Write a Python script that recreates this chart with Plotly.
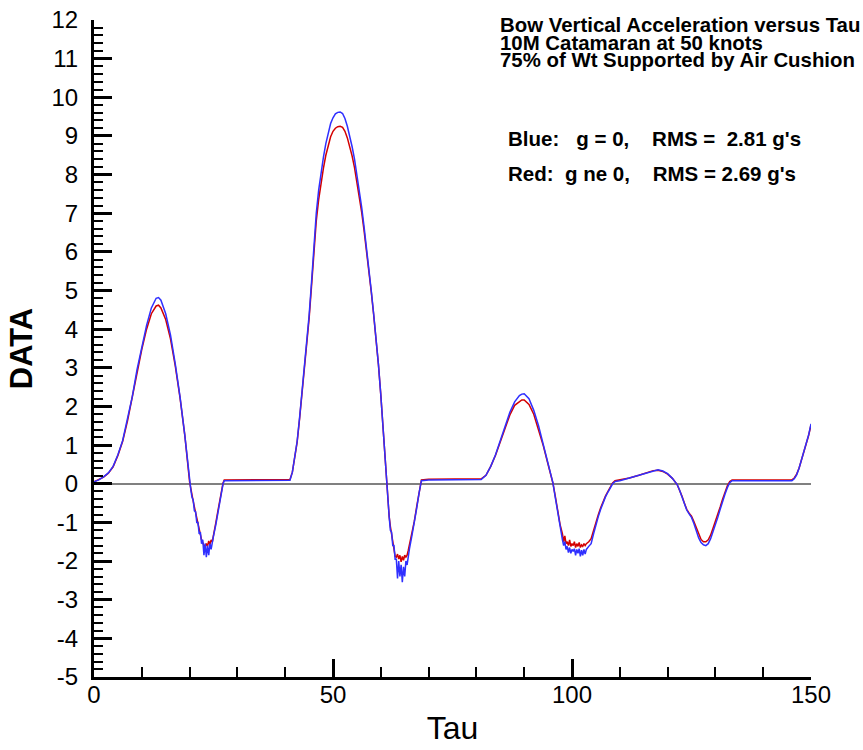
import plotly.graph_objects as go

# ---- data ----
tau_a = [0, 1, 2, 3, 4, 5, 6, 7, 8, 9, 10, 11, 12, 13, 13.5, 14, 15, 16, 17, 18, 19, 20]
blue_a = [0.05, 0.10, 0.18, 0.28, 0.45, 0.75, 1.12, 1.65, 2.25, 2.95, 3.55, 4.10, 4.55, 4.80, 4.82, 4.75, 4.40, 3.85, 3.10, 2.25, 1.25, 0.05]
red_a = [0.05, 0.10, 0.17, 0.27, 0.44, 0.73, 1.10, 1.62, 2.22, 2.90, 3.48, 4.00, 4.40, 4.60, 4.62, 4.55, 4.25, 3.75, 3.05, 2.22, 1.25, 0.05]

tau_b = [20.25, 20.5, 20.75, 21, 21.25, 21.5, 21.75, 22, 22.25, 22.5, 22.75, 23, 23.25, 23.5, 23.75, 24, 24.25, 24.5, 24.75, 25, 25.5, 26, 26.5, 27, 27.25, 27.5]
blue_b = [-0.15, -0.35, -0.42, -0.70, -0.72, -1.00, -1.00, -1.30, -1.25, -1.55, -1.45, -1.85, -1.55, -1.90, -1.60, -1.85, -1.55, -1.70, -1.50, -1.35, -1.05, -0.70, -0.32, 0.00, 0.08, 0.08]
red_b = [-0.15, -0.30, -0.45, -0.60, -0.75, -0.90, -1.05, -1.20, -1.32, -1.45, -1.52, -1.60, -1.62, -1.55, -1.62, -1.48, -1.58, -1.45, -1.50, -1.30, -1.00, -0.65, -0.30, 0.02, 0.10, 0.10]

tau_c = [28, 30, 32, 34, 36, 38, 40, 41]
blue_c = [0.08, 0.08, 0.08, 0.08, 0.08, 0.08, 0.08, 0.09]
red_c = [0.10, 0.10, 0.10, 0.10, 0.10, 0.10, 0.10, 0.11]

tau_d = [41.5, 42, 42.5, 43, 43.5, 44, 44.5, 45, 45.5, 46, 46.5, 47, 47.5, 48, 48.5, 49, 49.5, 50, 50.5, 51,
         51.5, 52, 52.5, 53, 53.5, 54, 54.5, 55, 55.5, 56, 56.5, 57, 57.5, 58, 58.5, 59, 59.5, 60, 60.5, 61]
blue_d = [0.30, 0.65, 1.10, 1.70, 2.35, 3.00, 3.70, 4.35, 5.20, 6.20, 7.00, 7.60, 8.05, 8.45, 8.80, 9.10, 9.32, 9.47, 9.57, 9.61,
          9.62, 9.58, 9.45, 9.25, 9.00, 8.72, 8.40, 8.00, 7.60, 7.15, 6.65, 6.15, 5.60, 5.00, 4.40, 3.80, 3.10, 2.30, 1.40, 0.35]
red_d = [0.30, 0.64, 1.08, 1.67, 2.30, 2.95, 3.63, 4.27, 5.10, 6.05, 6.80, 7.35, 7.80, 8.17, 8.50, 8.78, 8.98, 9.12, 9.20, 9.24,
         9.25, 9.22, 9.12, 8.95, 8.73, 8.48, 8.18, 7.82, 7.45, 7.02, 6.55, 6.07, 5.55, 4.97, 4.38, 3.78, 3.09, 2.30, 1.40, 0.35]

tau_e = [61.25, 61.5, 61.75, 62, 62.25, 62.5, 62.75, 63, 63.25, 63.5, 63.75, 64, 64.25, 64.5, 64.75, 65, 65.25, 65.5, 65.75, 66,
         66.5, 67, 67.5, 68, 68.25, 68.5]
blue_e = [-0.10, -0.60, -0.85, -1.20, -1.25, -1.60, -1.60, -1.95, -1.95, -2.45, -2.00, -2.40, -2.10, -2.55, -2.15, -2.40, -2.00, -2.10, -1.85, -1.68,
          -1.35, -1.02, -0.64, -0.24, -0.02, 0.08]
red_e = [-0.10, -0.55, -0.85, -1.10, -1.30, -1.50, -1.70, -1.88, -1.90, -1.82, -1.95, -1.85, -2.02, -1.88, -1.98, -1.85, -1.90, -1.85, -1.72, -1.58,
         -1.30, -0.98, -0.60, -0.20, 0.00, 0.10]

tau_f = [70, 72, 74, 76, 78, 80, 81]
blue_f = [0.10, 0.10, 0.10, 0.10, 0.10, 0.10, 0.11]
red_f = [0.12, 0.12, 0.12, 0.12, 0.12, 0.12, 0.13]

tau_g = [82, 83, 84, 85, 86, 87, 88, 89, 89.5, 90, 91, 92, 93, 94, 95, 96]
blue_g = [0.22, 0.45, 0.75, 1.12, 1.50, 1.85, 2.12, 2.28, 2.32, 2.33, 2.20, 1.90, 1.50, 1.02, 0.52, 0.03]
red_g = [0.22, 0.45, 0.74, 1.10, 1.47, 1.78, 2.03, 2.14, 2.17, 2.17, 2.05, 1.80, 1.42, 0.98, 0.50, 0.02]

tau_h = [96.5, 97, 97.5, 98, 98.25, 98.5, 98.75, 99, 99.25, 99.5, 99.75, 100, 100.25, 100.5, 100.75, 101, 101.25, 101.5, 101.75, 102,
         102.25, 102.5, 102.75, 103, 103.5, 104, 104.5, 105, 105.5, 106, 106.5, 107, 107.5, 108, 108.5, 109, 110]
blue_h = [-0.35, -0.75, -1.10, -1.45, -1.60, -1.50, -1.70, -1.62, -1.78, -1.65, -1.80, -1.70, -1.75, -1.68, -1.85, -1.70, -1.80, -1.68, -1.88, -1.72,
          -1.85, -1.70, -1.82, -1.70, -1.62, -1.55, -1.30, -1.05, -0.85, -0.66, -0.48, -0.34, -0.22, -0.10, 0.00, 0.06, 0.08]
red_h = [-0.32, -0.72, -1.05, -1.30, -1.50, -1.35, -1.55, -1.50, -1.60, -1.45, -1.62, -1.55, -1.60, -1.50, -1.65, -1.55, -1.62, -1.52, -1.65, -1.58,
         -1.62, -1.55, -1.60, -1.55, -1.50, -1.42, -1.20, -0.98, -0.80, -0.62, -0.45, -0.32, -0.20, -0.08, 0.02, 0.08, 0.10]

tau_i = [112, 114, 116, 117, 118, 119, 120, 121, 122]
blue_i = [0.15, 0.22, 0.30, 0.34, 0.36, 0.33, 0.26, 0.14, -0.02]
red_i = [0.15, 0.22, 0.30, 0.34, 0.35, 0.32, 0.25, 0.14, -0.02]

tau_j = [122.5, 123, 123.5, 124, 124.5, 125, 125.5, 126, 126.5, 127, 127.5, 128, 128.5, 129, 129.5, 130, 130.5, 131, 131.5, 132,
         132.5, 133, 133.5]
blue_j = [-0.16, -0.34, -0.52, -0.68, -0.78, -0.87, -1.03, -1.22, -1.40, -1.52, -1.58, -1.60, -1.55, -1.42, -1.25, -1.05, -0.87, -0.66, -0.45, -0.27,
          -0.10, 0.03, 0.08]
red_j = [-0.15, -0.32, -0.50, -0.66, -0.76, -0.84, -0.98, -1.15, -1.32, -1.44, -1.50, -1.50, -1.45, -1.33, -1.15, -0.98, -0.80, -0.60, -0.40, -0.22,
         -0.05, 0.06, 0.10]

tau_k = [136, 138, 140, 142, 144, 146, 146.5, 147, 147.5, 148, 148.5, 149, 149.5, 150]
blue_k = [0.08, 0.08, 0.08, 0.08, 0.08, 0.08, 0.13, 0.23, 0.40, 0.60, 0.80, 1.00, 1.26, 1.55]
red_k = [0.10, 0.10, 0.10, 0.10, 0.10, 0.10, 0.15, 0.25, 0.40, 0.60, 0.80, 1.00, 1.25, 1.52]

title_lines = ["Bow Vertical Acceleration versus Tau",
               "10M Catamaran at 50 knots",
               "75% of Wt Supported by Air Cushion"]
legend_lines = ["Blue:   g = 0,    RMS =  2.81 g's",
                "Red:  g ne 0,    RMS = 2.69 g's"]

x_ticks = [0, 50, 100, 150]
y_ticks = list(range(-5, 13))
y_ticklabels = [str(v) for v in y_ticks]

# ---- assemble ----
tau = tau_a + tau_b + tau_c + tau_d + tau_e + tau_f + tau_g + tau_h + tau_i + tau_j + tau_k
blue = blue_a + blue_b + blue_c + blue_d + blue_e + blue_f + blue_g + blue_h + blue_i + blue_j + blue_k
red = red_a + red_b + red_c + red_d + red_e + red_f + red_g + red_h + red_i + red_j + red_k
assert len(tau) == len(blue) == len(red)

FONT = "Liberation Sans, Arial, sans-serif"

fig = go.Figure()
fig.add_trace(go.Scatter(x=tau, y=red, mode="lines", line=dict(color="#d40000", width=1.5),
                         name="g ne 0", showlegend=False))
fig.add_trace(go.Scatter(x=tau, y=blue, mode="lines", line=dict(color="#2f2fff", width=1.5),
                         name="g = 0", showlegend=False))

L, R, T, B = 94, 52, 20, 73
W, H = 863, 750
pw, ph = W - L - R, H - T - B


def px_x(px):
    return (px - L) / pw


def px_y(py):
    return (H - B - py) / ph


ann = []
for line, py in zip(title_lines, [25, 42.5, 60]):
    ann.append(dict(text="<b>" + line + "</b>", x=px_x(499), y=px_y(py), xref="paper", yref="paper",
                    xanchor="left", yanchor="middle", showarrow=False, borderpad=0,
                    font=dict(family=FONT, size=20.4, color="black")))
for line, py in zip(legend_lines, [138, 173]):
    ann.append(dict(text="<b>" + line.replace(" ", "\u00a0") + "</b>", x=px_x(507), y=px_y(py),
                    xref="paper", yref="paper", xanchor="left", yanchor="middle", showarrow=False, borderpad=0,
                    font=dict(family=FONT, size=20.5, color="black")))

fig.update_layout(
    width=W, height=H,
    margin=dict(l=L, r=R, t=T, b=B, pad=0),
    paper_bgcolor="white", plot_bgcolor="white",
    font=dict(family=FONT, color="black"),
    annotations=ann,
    xaxis=dict(range=[0, 150], tickvals=x_ticks, ticks="inside", ticklen=18, tickwidth=3, tickcolor="black",
               showline=True, linewidth=3, linecolor="black", showgrid=False, zeroline=False,
               automargin=False, ticklabelstandoff=-6,
               tickfont=dict(family=FONT, size=24, color="black"),
               minor=dict(dtick=10, ticks="inside", ticklen=10, tickwidth=1.5, tickcolor="black", showgrid=False),
               title=dict(text="Tau", font=dict(family=FONT, size=32, color="black"), standoff=10)),
    yaxis=dict(range=[-5, 12], tickvals=y_ticks, ticktext=y_ticklabels, ticks="inside", ticklen=18, tickwidth=3,
               tickcolor="black", showline=True, linewidth=3, linecolor="black", showgrid=False,
               zeroline=True, zerolinecolor="#808080", zerolinewidth=2,
               automargin=False, ticklabelstandoff=8,
               tickfont=dict(family=FONT, size=24, color="black"),
               minor=dict(dtick=0.2, ticks="inside", ticklen=9, tickwidth=1.5, tickcolor="black", showgrid=False),
               title=dict(text="<b>DATA</b>", font=dict(family=FONT, size=31, color="black"), standoff=10)),
)

fig.write_html("out.html")
